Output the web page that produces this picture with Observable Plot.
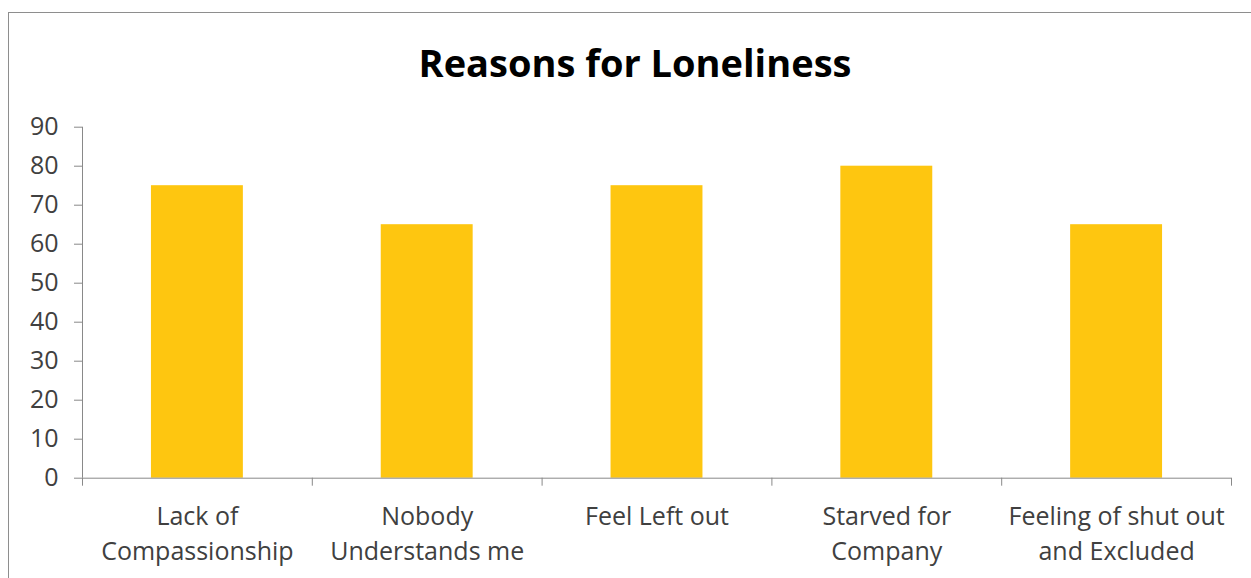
<!DOCTYPE html>
<html>
<head>
<meta charset="utf-8">
<script src="https://cdn.jsdelivr.net/npm/d3@7"></script>
<script src="https://cdn.jsdelivr.net/npm/@observablehq/plot@0.6"></script>
<style>
  html, body { margin: 0; padding: 0; background: #fff; }
  #chart { position: relative; width: 1251px; height: 578px; overflow: hidden; font-family: "Open Sans", sans-serif; }
  #border { position: absolute; left: 8px; top: 12px; width: 1400px; height: 800px; border: 1.5px solid #8e8e8e; box-sizing: border-box; }
  #title { position: absolute; left: 0; top: 37px; width: 1270px; text-align: center; font-weight: bold; font-size: 38px; line-height: 50px; color: #000; }
  #plot { position: absolute; left: 0; top: 100px; }
</style>
</head>
<body>
<div id="chart">
  <div id="border"></div>
  <div id="title">Reasons for Loneliness</div>
  <div id="plot"></div>
</div>
<script>
// Survey categories (line breaks as shown under the axis) and their scores
const categories = [
  "Lack of\nCompassionship",
  "Nobody\nUnderstands me",
  "Feel Left out",
  "Starved for\nCompany",
  "Feeling of shut out\nand Excluded"
];
const values = [75, 65, 75, 80, 65];
const yTicks = [0, 10, 20, 30, 40, 50, 60, 70, 80, 90];

const barColor = "#FEC610";
const axisColor = "#898989";
const textColor = "#404040";

const rows = categories.map((name, i) => ({ name, value: values[i], index: i }));
// category slots: each occupies one unit, bar fills the middle 40%
const boundaries = d3.range(categories.length + 1);

const chart = Plot.plot({
  width: 1251,
  height: 478,
  marginLeft: 82,
  marginRight: 20,
  marginTop: 26.7,
  marginBottom: 100.3,
  style: { fontFamily: "Open Sans, sans-serif", fontSize: "25px", color: textColor, background: "transparent" },
  x: { type: "linear", domain: [0, categories.length] },
  y: { domain: [0, 90] },
  marks: [
    Plot.rectY(rows, { x1: d => d.index + 0.3, x2: d => d.index + 0.7, y: "value", fill: barColor }),
    Plot.axisY({ ticks: yTicks, tickSize: 8, tickPadding: 16, stroke: axisColor, fill: textColor, fontSize: 25, label: null }),
    Plot.axisX({ ticks: boundaries, tickSize: 8, tickFormat: () => "", stroke: axisColor, label: null }),
    Plot.ruleX([0], { stroke: axisColor }),
    Plot.ruleY([0], { stroke: axisColor }),
    Plot.text(rows, {
      x: d => d.index + 0.5,
      text: "name",
      frameAnchor: "bottom",
      lineAnchor: "top",
      dy: 22,
      lineHeight: 1.4,
      fontSize: 25,
      fill: textColor
    })
  ]
});

document.getElementById("plot").appendChild(chart);
</script>
</body>
</html>
